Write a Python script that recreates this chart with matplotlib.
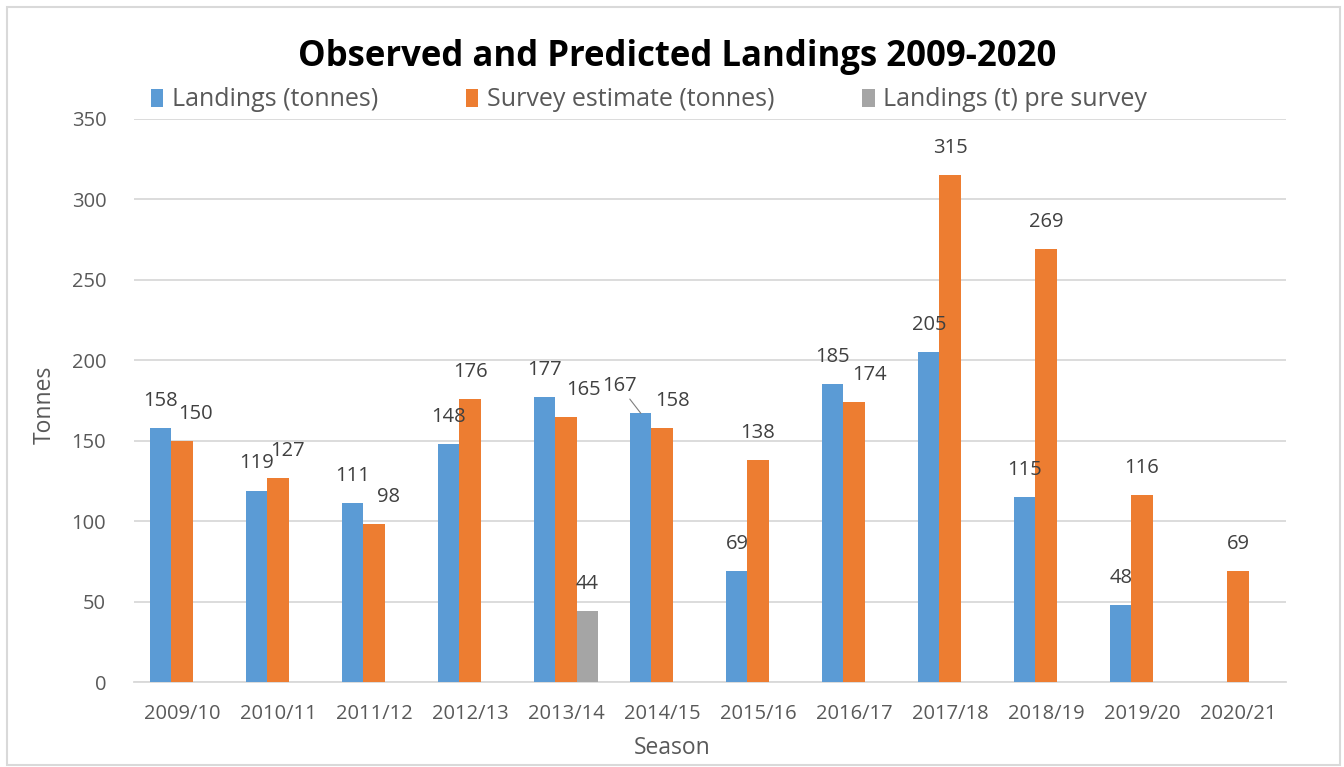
"""Observed and predicted landings by season, clustered bar chart."""

import matplotlib

matplotlib.use('Agg')
import matplotlib.pyplot as plt
import numpy as np
from matplotlib.patches import Rectangle

seasons = ['2009/10', '2010/11', '2011/12', '2012/13', '2013/14', '2014/15',
           '2015/16', '2016/17', '2017/18', '2018/19', '2019/20', '2020/21']
landings = [158, 119, 111, 148, 177, 167, 69, 185, 205, 115, 48, np.nan]
survey = [150, 127, 98, 176, 165, 158, 138, 174, 315, 269, 116, 69]
pre_survey = [np.nan, np.nan, np.nan, np.nan, 44, np.nan, np.nan, np.nan,
              np.nan, np.nan, np.nan, np.nan]

series_names = ['Landings (tonnes)', 'Survey estimate (tonnes)', 'Landings (t) pre survey']
colors = ['#5B9BD5', '#ED7D31', '#A5A5A5']

# sideways nudges (pixels) for labels that Excel moved to avoid overlaps
label_nudge = {(1, 0): 13, (1, 1): 9, (1, 2): 14, (1, 4): 17,
               (0, 5): -21, (1, 5): 10, (1, 7): 15}
leader_lines = {(0, 5)}

text_color = '#595959'
grid_color = '#D9D9D9'

plt.rcParams['font.family'] = ['Open Sans', 'DejaVu Sans']

fig = plt.figure(figsize=(13.44, 7.67), dpi=100)
ax = fig.add_axes([134 / 1344, 1 - 682 / 767, 1152 / 1344, 563 / 767])

x = np.arange(len(seasons))
width = 0.22
for i, (values, name, color) in enumerate(zip([landings, survey, pre_survey], series_names, colors)):
    pos = x + (i - 1) * width
    ax.bar(pos, values, width=width, color=color, label=name, zorder=3)
    for j, v in enumerate(values):
        if np.isnan(v):
            continue
        dx = label_nudge.get((i, j), 0) * 0.72
        kw = {}
        if (i, j) in leader_lines:
            kw['arrowprops'] = dict(arrowstyle='-', color='#7F7F7F', lw=0.8,
                                    shrinkA=0, shrinkB=0)
        ax.annotate(f'{v:.0f}', xy=(pos[j], v), xytext=(dx, 19.5),
                    textcoords='offset points', ha='center', va='center',
                    fontsize=14.5, color='#404040', zorder=4, **kw)

ax.set_xlim(-0.5, len(seasons) - 0.5)
ax.set_ylim(0, 350)
ax.set_yticks(np.arange(0, 351, 50))
ax.set_xticks(x)
ax.set_xticklabels(seasons)
ax.yaxis.grid(True, color=grid_color, lw=1.3, zorder=0)
ax.tick_params(axis='both', length=0, colors=text_color, labelsize=14.5)
ax.tick_params(axis='y', pad=20)
ax.tick_params(axis='x', pad=16)
for side in ['top', 'right', 'left']:
    ax.spines[side].set_visible(False)
ax.spines['bottom'].set_color(grid_color)
ax.spines['bottom'].set_linewidth(1.3)

fig.text(45 / 1344, 1 - 405 / 767, 'Tonnes', rotation=90, ha='center', va='center',
         fontsize=16.5, color=text_color)
fig.text(672 / 1344, 1 - 748 / 767, 'Season', ha='center', va='center',
         fontsize=16.5, color=text_color)

fig.text(677 / 1344, 1 - 57 / 767, 'Observed and Predicted Landings 2009-2020',
         ha='center', va='center', fontsize=25, fontweight='bold', color='black')

fig.legend(loc='center', bbox_to_anchor=(649 / 1344, 1 - 100 / 767), ncol=3,
           frameon=False, fontsize=18, handlelength=0.5, handleheight=0.75,
           handletextpad=0.35, columnspacing=3.5, labelcolor=text_color)

fig.add_artist(Rectangle((7 / 1344, 2 / 767), 1333 / 1344, 758 / 767,
                         transform=fig.transFigure, fill=False,
                         edgecolor=grid_color, lw=1.5))

fig.savefig('out.png', dpi=100)
